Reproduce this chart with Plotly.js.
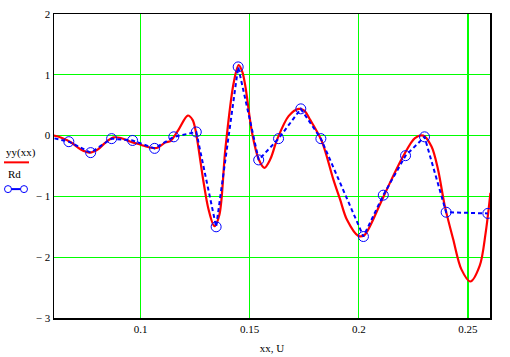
<!DOCTYPE html>
<html>
<head>
<meta charset="utf-8">
<script src="https://cdn.plot.ly/plotly-3.0.1.min.js"></script>
<style>html,body{margin:0;padding:0;background:#fff;}#chart{width:510px;height:357px;}</style>
</head>
<body>
<div id="chart"></div>
<script>
// Red curve yy(xx)
var curveX = [0.0600,0.0634,0.0680,0.0726,0.0767,0.0803,0.0840,0.0877,0.0909,0.0954,0.1000,0.1046,0.1078,0.1114,0.1137,0.1174,0.1216,0.1238,0.1251,0.1289,0.1311,0.1338,0.1361,0.1388,0.1426,0.1449,0.1466,0.1480,0.1511,0.1541,0.1567,0.1594,0.1625,0.1678,0.1724,0.1750,0.1777,0.1830,0.1883,0.1914,0.1945,0.1998,0.2024,0.2051,0.2097,0.2150,0.2203,0.2257,0.2295,0.2333,0.2363,0.2394,0.2432,0.2470,0.2511,0.2554,0.2581,0.2603];
var curveY = [0.00,-0.03,-0.11,-0.23,-0.28,-0.23,-0.11,-0.03,-0.04,-0.10,-0.15,-0.20,-0.20,-0.11,-0.09,0.10,0.33,0.26,0.10,-0.78,-1.21,-1.49,-1.30,-0.23,0.86,1.16,1.05,0.81,0.04,-0.39,-0.53,-0.39,-0.07,0.32,0.44,0.41,0.26,-0.09,-0.72,-1.05,-1.38,-1.65,-1.64,-1.49,-1.13,-0.72,-0.34,-0.04,0.00,-0.18,-0.56,-1.16,-1.70,-2.20,-2.40,-2.14,-1.60,-0.94];
// Blue measured points Rd
var rdX = [0.0574,0.0671,0.0771,0.0867,0.0963,0.1064,0.1152,0.1255,0.1346,0.1447,0.1541,0.1632,0.1734,0.1826,0.2021,0.2112,0.2214,0.2301,0.2400,0.2591];
var rdY = [-0.02,-0.10,-0.28,-0.05,-0.08,-0.21,-0.02,0.06,-1.50,1.13,-0.40,-0.05,0.44,-0.05,-1.66,-0.98,-0.33,-0.02,-1.26,-1.28];
var xTicks = [0.1,0.15,0.2,0.25];
var xTickText = ['0.1','0.15','0.2','0.25'];
var yTicks = [-3,-2,-1,0,1,2];
var yTickText = ['− 3','− 2','− 1','0','1','2'];

var font = {family:"'Liberation Serif', 'Times New Roman', serif", size:11, color:'#000'};

var traces = [
  {x:curveX, y:curveY, type:'scatter', mode:'lines', line:{color:'#ff0000', width:2.2, shape:'spline', smoothing:0.9}, showlegend:false, hoverinfo:'skip'},
  {x:rdX, y:rdY, type:'scatter', mode:'lines+markers', line:{color:'#0000ff', width:2, dash:'4px,3px'}, marker:{symbol:'circle-open', size:10, color:'#0000ff', line:{width:1, color:'#0000ff'}}, showlegend:false, hoverinfo:'skip'}
];

var layout = {
  width:510, height:357,
  margin:{l:54, r:20, t:14, b:39},
  paper_bgcolor:'#fff', plot_bgcolor:'#fff',
  font:font,
  xaxis:{range:[0.0603,0.2601], tickvals:xTicks, ticktext:xTickText, showgrid:true, gridcolor:'#00ff00', gridwidth:1.2, zeroline:false,
         showline:true, mirror:true, linecolor:'#000', linewidth:1.5, ticks:'', tickfont:font,
         title:{text:'xx, U', font:font, standoff:10}},
  yaxis:{range:[-3,2], tickvals:yTicks, ticktext:yTickText, showgrid:true, gridcolor:'#00ff00', gridwidth:1.2, zeroline:false,
         showline:true, mirror:true, linecolor:'#000', linewidth:1.5, ticks:'', tickfont:font},
  annotations:[
    {xref:'paper', yref:'paper', x:-0.114, y:0.543, xanchor:'left', yanchor:'middle', text:'yy(xx)', showarrow:false, font:font},
    {xref:'paper', yref:'paper', x:-0.11, y:0.474, xanchor:'left', yanchor:'middle', text:'Rd', showarrow:false, font:font}
  ],
  shapes:[
    {type:'line', xref:'paper', yref:'paper', x0:-0.1147, x1:-0.0573, y0:0.512, y1:0.512, line:{color:'#ff0000', width:2}},
    {type:'line', xref:'paper', yref:'paper', x0:-0.098, x1:-0.077, y0:0.424, y1:0.424, line:{color:'#0000ff', width:2}},
    {type:'circle', xref:'paper', yref:'paper', x0:-0.1135, x1:-0.0975, y0:0.4125, y1:0.4355, line:{color:'#0000ff', width:1}},
    {type:'circle', xref:'paper', yref:'paper', x0:-0.0768, x1:-0.0608, y0:0.4125, y1:0.4355, line:{color:'#0000ff', width:1}}
  ]
};
Plotly.newPlot('chart', traces, layout, {staticPlot:true, displayModeBar:false});
</script>
</body>
</html>
